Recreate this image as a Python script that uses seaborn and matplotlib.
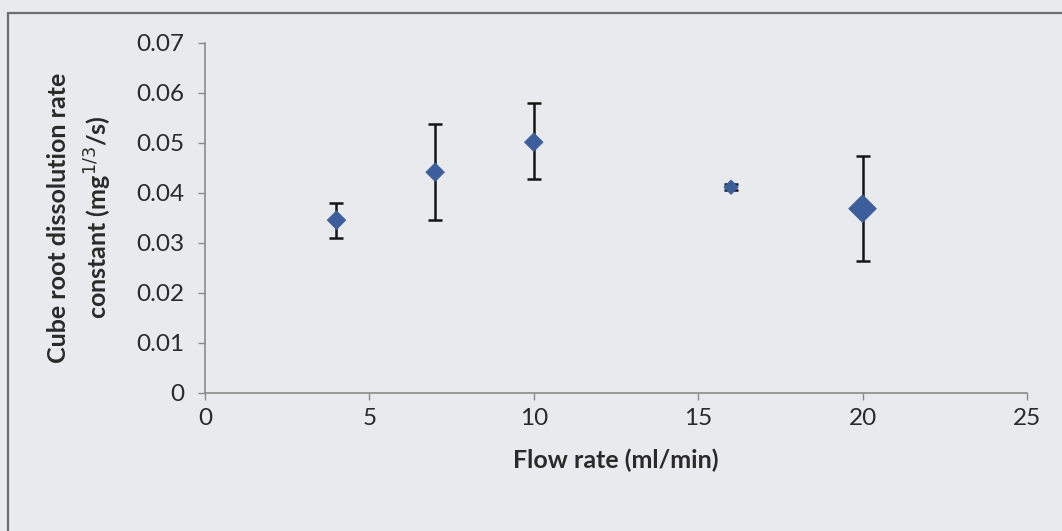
import matplotlib
matplotlib.use("Agg")
import matplotlib.pyplot as plt
import seaborn as sns
import pandas as pd
from matplotlib.patches import Rectangle

# Measured dissolution rate constants vs flow rate
flow_rate = [4, 7, 10, 16, 20]
rate_const = [0.0345, 0.0441, 0.0501, 0.0411, 0.0368]
err_upper = [0.0035, 0.0097, 0.0079, 0.0006, 0.0105]
err_lower = [0.0035, 0.0095, 0.0074, 0.0006, 0.0105]
marker_area = [90, 90, 90, 55, 200]

df = pd.DataFrame({"flow": flow_rate, "k": rate_const, "area": marker_area})

sns.set_theme(style="white")
plt.rcParams["font.family"] = ["Lato", "DejaVu Sans"]

bg = "#e9eaee"
fig = plt.figure(figsize=(10.62, 5.31), dpi=100, facecolor=bg)
ax = fig.add_axes([0.193, 0.2605, 0.774, 0.6591])
ax.set_facecolor(bg)

# chart frame (top and left edges)
fig.add_artist(Rectangle((8 / 1062, -0.05), 1.2, 1 - 13 / 531 + 0.05,
                         transform=fig.transFigure, fill=False,
                         edgecolor="#6e6e6e", linewidth=1.6))

ax.errorbar(flow_rate, rate_const, yerr=[err_lower, err_upper], fmt="none",
            ecolor="#151515", elinewidth=1.8, capsize=5, capthick=1.8, zorder=2)
sns.scatterplot(data=df, x="flow", y="k", size="area", sizes=(55, 200),
                size_norm=(55, 200), marker="D", color="#3c5f9c",
                edgecolor="#3c5f9c", linewidth=0.5, legend=False, ax=ax, zorder=3)

ax.set_xlim(0, 25)
ax.set_ylim(0, 0.07)
ax.set_xticks([0, 5, 10, 15, 20, 25])
ax.set_yticks([0, 0.01, 0.02, 0.03, 0.04, 0.05, 0.06, 0.07])
ax.set_yticklabels(["0", "0.01", "0.02", "0.03", "0.04", "0.05", "0.06", "0.07"])

for side in ["top", "right"]:
    ax.spines[side].set_visible(False)
for side in ["left", "bottom"]:
    ax.spines[side].set_color("#8a8a8a")
    ax.spines[side].set_linewidth(1.2)

ax.tick_params(axis="both", which="both", direction="out", length=5, width=1.0,
               color="#8a8a8a", labelsize=17.5, labelcolor="#2a2a2a",
               left=True, bottom=True)
ax.tick_params(axis="y", pad=10)
ax.tick_params(axis="x", pad=6)

ax.set_xlabel("Flow rate (ml/min)", fontsize=18, fontweight="bold",
              color="#2a2a2a", labelpad=14)
ax.set_ylabel("Cube root dissolution rate\nconstant (mg$^{1/3}$/s)", fontsize=18,
              fontweight="bold", color="#2a2a2a", labelpad=16, linespacing=1.5)

fig.savefig("out.png", dpi=100, facecolor=bg)
